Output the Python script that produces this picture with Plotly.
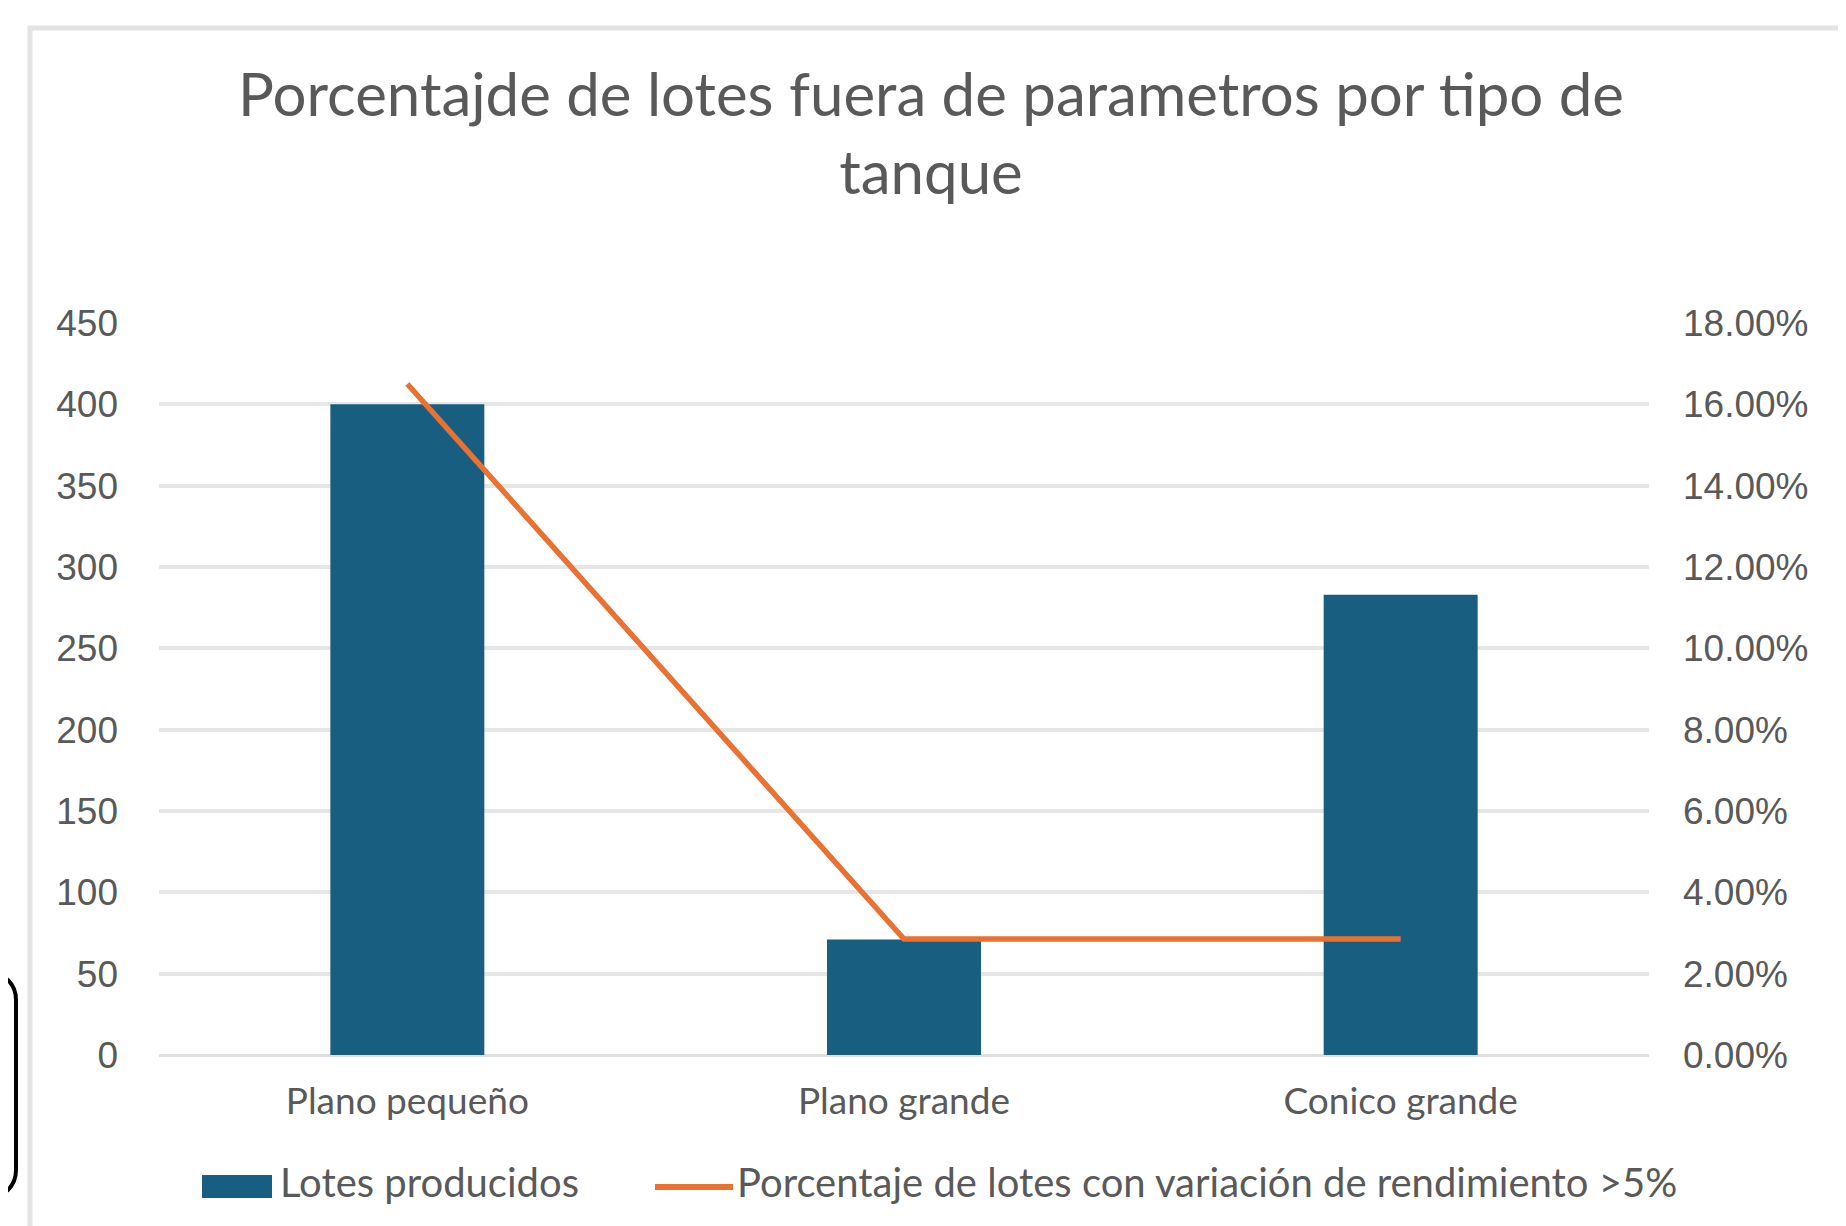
import plotly.graph_objects as go

# ---- data ----
categories = ["Plano pequeño", "Plano grande", "Conico grande"]
lotes_producidos = [400, 71, 283]
pct_variacion = [0.165, 0.0285, 0.0285]

bar_name = "Lotes producidos"
line_name = "Porcentaje de lotes con variación de rendimiento >5%"
title_text = "Porcentajde de lotes fuera de parametros por tipo de<br>tanque"

# ---- style ----
OFF = 8                      # default page body margin
W, H = 1846 - OFF, 1226 - OFF
PL, PT, PR, PB = 159, 323, 1649, 1055   # plot area in page pixels
ML, MT = PL - OFF, PT - OFF
PW, PH = PR - PL, PB - PT
MR, MB = W - ML - PW, H - MT - PH
BAR_COLOR = "#175e80"
LINE_COLOR = "#e97132"
TEXT_COLOR = "#595959"
GRID_COLOR = "#e6e6e6"
CAL = "Lato, Carlito, sans-serif"
ARIAL = "Liberation Sans, Arial, sans-serif"


def px(x):
    return (x - PL) / PW


def py(y):
    return (PB - y) / PH


fig = go.Figure()
fig.add_trace(go.Bar(
    x=categories, y=lotes_producidos, name=bar_name,
    marker=dict(color=BAR_COLOR, line=dict(width=0)),
    showlegend=False, yaxis="y",
))
fig.add_trace(go.Scatter(
    x=categories, y=pct_variacion, name=line_name, mode="lines",
    line=dict(color=LINE_COLOR, width=5.5),
    showlegend=False, yaxis="y2",
))

shapes = [
    # outer chart border
    dict(type="rect", xref="paper", yref="paper",
         x0=px(30), x1=px(1842), y0=py(28), y1=py(1300),
         line=dict(color="#e3e3e3", width=5), fillcolor="rgba(0,0,0,0)", layer="below"),
    # partial black rounded outline at the left edge
    dict(type="path", xref="paper", yref="paper",
         path=(f"M {px(-13)},{py(972)} C {px(4)},{py(972)} {px(16)},{py(984)} {px(16)},{py(1000)} "
               f"L {px(16)},{py(1170)} C {px(16)},{py(1186)} {px(4)},{py(1198)} {px(-13)},{py(1198)}"),
         line=dict(color="#000000", width=4)),
    # legend symbols
    dict(type="rect", xref="paper", yref="paper",
         x0=px(202), x1=px(272), y0=py(1198), y1=py(1175),
         line=dict(width=0), fillcolor=BAR_COLOR),
    dict(type="line", xref="paper", yref="paper",
         x0=px(655), x1=px(733), y0=py(1187), y1=py(1187),
         line=dict(color=LINE_COLOR, width=6)),
]

annotations = [
    dict(text=bar_name, xref="paper", yref="paper", x=px(278), y=py(1182),
         xanchor="left", yanchor="middle", showarrow=False,
         font=dict(family=CAL, size=40, color=TEXT_COLOR)),
    dict(text=line_name, xref="paper", yref="paper", x=px(735), y=py(1182),
         xanchor="left", yanchor="middle", showarrow=False,
         font=dict(family=CAL, size=40, color=TEXT_COLOR)),
]

fig.update_layout(
    width=W, height=H,
    margin=dict(l=ML, r=MR, t=MT, b=MB, pad=0),
    paper_bgcolor="white", plot_bgcolor="white",
    title=dict(text=title_text, x=(931 - OFF) / W, xanchor="center",
               y=1 - 108 / H, yanchor="middle",
               font=dict(family=CAL, size=60, color=TEXT_COLOR)),
    bargap=0.69,
    showlegend=False,
    shapes=shapes,
    annotations=annotations,
    xaxis=dict(showgrid=False, showline=False, ticks="", zeroline=False,
               tickfont=dict(family=CAL, size=37, color=TEXT_COLOR),
               ticklabelstandoff=21),
    yaxis=dict(range=[0, 450], dtick=50, showgrid=True, gridcolor=GRID_COLOR, gridwidth=4,
               zeroline=True, zerolinecolor="#e0e0e0", zerolinewidth=3,
               showline=False, ticks="",
               tickfont=dict(family=ARIAL, size=37, color=TEXT_COLOR),
               ticklabelstandoff=40),
    yaxis2=dict(range=[0, 0.18], dtick=0.02, tickformat=".2%", overlaying="y", side="right",
                showgrid=False, zeroline=False, showline=False, ticks="",
                tickfont=dict(family=ARIAL, size=37, color=TEXT_COLOR),
                ticklabelstandoff=33),
)

fig.write_html("out.html")
